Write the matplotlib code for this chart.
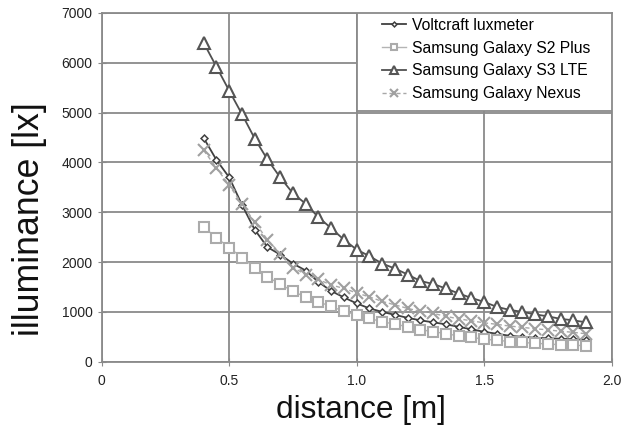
import matplotlib
matplotlib.use("Agg")
import matplotlib.pyplot as plt
from matplotlib.patches import Rectangle

plt.rcParams['font.family'] = ['Liberation Sans', 'DejaVu Sans']

distance = [0.40, 0.45, 0.50, 0.55, 0.60, 0.65, 0.70, 0.75, 0.80, 0.85,
            0.90, 0.95, 1.00, 1.05, 1.10, 1.15, 1.20, 1.25, 1.30, 1.35,
            1.40, 1.45, 1.50, 1.55, 1.60, 1.65, 1.70, 1.75, 1.80, 1.85, 1.90]

voltcraft = [4490, 4050, 3700, 3150, 2650, 2300, 2150, 1970, 1830, 1600,
             1420, 1290, 1170, 1070, 1000, 940, 880, 830, 790, 750,
             700, 650, 600, 560, 520, 500, 480, 470, 460, 450, 440]

s2_plus = [2700, 2490, 2290, 2090, 1890, 1700, 1560, 1410, 1300, 1200,
           1110, 1010, 940, 870, 800, 755, 700, 645, 600, 565,
           515, 490, 450, 430, 405, 385, 370, 355, 340, 330, 320]

s3_lte = [6400, 5920, 5440, 4970, 4480, 4060, 3700, 3380, 3170, 2900,
          2680, 2450, 2250, 2120, 1970, 1870, 1750, 1620, 1560, 1470,
          1370, 1280, 1200, 1100, 1040, 1000, 950, 910, 860, 830, 790]

nexus = [4240, 3890, 3540, 3170, 2800, 2450, 2170, 1890, 1750, 1650,
         1540, 1470, 1380, 1300, 1210, 1140, 1070, 1010, 970, 910,
         860, 820, 780, 750, 715, 690, 660, 640, 610, 590, 560]

labels = ["Voltcraft luxmeter", "Samsung Galaxy S2 Plus",
          "Samsung Galaxy S3 LTE", "Samsung Galaxy Nexus"]

xticks = [0, 0.5, 1.0, 1.5, 2.0]
xticklabels = ["0", "0.5", "1.0", "1.5", "2.0"]
yticks = [0, 1000, 2000, 3000, 4000, 5000, 6000, 7000]

fig = plt.figure(figsize=(6.36, 4.26), dpi=100)
ax = fig.add_axes([0.160, 0.151, 0.8015, 0.8185])

grid_c = "#8a8a8a"
h_volt, = ax.plot(distance, voltcraft, color="#404040", lw=1.3, marker="D", ms=3.5,
                  mfc="white", mec="#404040", mew=1.1, label=labels[0], zorder=3)
h_s2, = ax.plot(distance, s2_plus, color="#b4b4b4", lw=1.0, marker="s", ms=7,
                mfc="white", mec="#ababab", mew=1.5, label=labels[1], zorder=4)
h_nex, = ax.plot(distance, nexus, color="#a8a8a8", lw=1.0, ls=(0, (3, 2)), marker="x", ms=8,
                 mec="#a0a0a0", mew=1.5, label=labels[3], zorder=5)
h_s3, = ax.plot(distance, s3_lte, color="#505050", lw=1.3, marker="^", ms=8,
                mfc="white", mec="#555555", mew=1.5, label=labels[2], zorder=6)

ax.set_xlim(0, 2.0)
ax.set_ylim(0, 7000)
ax.set_xticks(xticks)
ax.set_xticklabels(xticklabels)
ax.set_yticks(yticks)
ax.grid(True, color=grid_c, lw=1.3)
ax.set_axisbelow(True)
for s in ax.spines.values():
    s.set_color(grid_c)
    s.set_linewidth(1.3)
ax.tick_params(axis="both", direction="inout", length=6, color=grid_c,
               labelsize=10, labelcolor="#222222")
ax.tick_params(axis="x", pad=6)

ax.set_xlabel("distance [m]", fontsize=22.7, color="#111111")
ax.set_ylabel("illuminance [lx]", fontsize=25.7, color="#111111")
ax.xaxis.set_label_coords(0.508, -0.095)
ax.yaxis.set_label_coords(-0.107, 0.41)

# legend frame box
frame = Rectangle((0.501, 0.719), 0.499, 0.281, transform=ax.transAxes,
                  facecolor="white", edgecolor=grid_c, lw=1.3, zorder=10)
ax.add_patch(frame)

leg = ax.legend([h_volt, h_s2, h_s3, h_nex], labels,
                loc="upper left", bbox_to_anchor=(0.541, 1.0),
                borderaxespad=0, fontsize=11.3, frameon=False,
                handlelength=1.53, handletextpad=0.38, labelspacing=0.5,
                borderpad=0.3, markerscale=0.7)
leg.set_zorder(11)

fig.savefig("out.png", dpi=100)
